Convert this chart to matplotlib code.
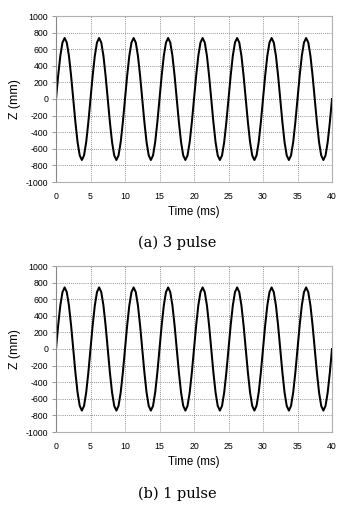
import numpy as np
import matplotlib.pyplot as plt

plt.rcParams['axes.unicode_minus'] = False

# time axis (ms), 16 samples per 5 ms cycle
time_ms = [i * 0.3125 for i in range(129)]

# Z (mm)
z_a = [
    0, 280, 520, 680, 735, 680, 520, 280, 0, -280, -520, -680, -735, -680, -520, -280,
    0, 280, 520, 680, 735, 680, 520, 280, 0, -280, -520, -680, -735, -680, -520, -280,
    0, 280, 520, 680, 735, 680, 520, 280, 0, -280, -520, -680, -735, -680, -520, -280,
    0, 280, 520, 680, 735, 680, 520, 280, 0, -280, -520, -680, -735, -680, -520, -280,
    0, 280, 520, 680, 735, 680, 520, 280, 0, -280, -520, -680, -735, -680, -520, -280,
    0, 280, 520, 680, 735, 680, 520, 280, 0, -280, -520, -680, -735, -680, -520, -280,
    0, 280, 520, 680, 735, 680, 520, 280, 0, -280, -520, -680, -735, -680, -520, -280,
    0, 280, 520, 680, 735, 680, 520, 280, 0, -280, -520, -680, -735, -680, -520, -280,
    0,
]

# Z (mm)
z_b = [
    0, 284, 524, 685, 742, 685, 524, 284, 0, -284, -524, -685, -742, -685, -524, -284,
    0, 284, 524, 685, 742, 685, 524, 284, 0, -284, -524, -685, -742, -685, -524, -284,
    0, 284, 524, 685, 742, 685, 524, 284, 0, -284, -524, -685, -742, -685, -524, -284,
    0, 284, 524, 685, 742, 685, 524, 284, 0, -284, -524, -685, -742, -685, -524, -284,
    0, 284, 524, 685, 742, 685, 524, 284, 0, -284, -524, -685, -742, -685, -524, -284,
    0, 284, 524, 685, 742, 685, 524, 284, 0, -284, -524, -685, -742, -685, -524, -284,
    0, 284, 524, 685, 742, 685, 524, 284, 0, -284, -524, -685, -742, -685, -524, -284,
    0, 284, 524, 685, 742, 685, 524, 284, 0, -284, -524, -685, -742, -685, -524, -284,
    0,
]

x_ticks = [0, 5, 10, 15, 20, 25, 30, 35, 40]
y_ticks = [-1000, -800, -600, -400, -200, 0, 200, 400, 600, 800, 1000]
captions = ["(a) 3 pulse", "(b) 1 pulse"]

W, H = 348, 507
fig = plt.figure(figsize=(W / 100, H / 100), dpi=100)

# pixel boxes (left, top, right, bottom) of the two plots
boxes = [(56, 16, 332, 182), (56, 266, 332, 432)]
caption_y = [243, 494]

for box, z, cap, cy in zip(boxes, [z_a, z_b], captions, caption_y):
    l, t, r, b = box
    ax = fig.add_axes([l / W, 1 - b / H, (r - l) / W, (b - t) / H])
    ax.plot(time_ms, z, color='black', lw=1.45)
    ax.set_xlim(0, 40)
    ax.set_ylim(-1000, 1000)
    ax.set_xticks(x_ticks)
    ax.set_yticks(y_ticks)
    ax.grid(True, color='#707070', linestyle=(0, (1, 1.5)), lw=0.6)
    for s in ax.spines.values():
        s.set_color('#b0b0b0')
        s.set_linewidth(0.8)
    ax.spines['left'].set_color('#888888')
    ax.tick_params(axis='y', length=3, width=0.6, color='#888888', pad=2.5,
                   labelsize=6.3)
    ax.tick_params(axis='x', length=0, pad=7.5, labelsize=6.3)
    for lab in ax.get_xticklabels() + ax.get_yticklabels():
        lab.set_fontfamily('Liberation Sans')
    ax.set_xlabel("Time (ms)", fontsize=8.3, family='Liberation Sans')
    ax.xaxis.set_label_coords(0.5, -0.145)
    ax.set_ylabel("Z (mm)", fontsize=8.8, family='Liberation Sans', va='center')
    ax.yaxis.set_label_coords(-0.147, 0.5)
    fig.text(177 / W, 1 - cy / H, cap, ha='center', va='center',
             fontsize=10.5, family='DejaVu Serif')

fig.savefig("out.png", dpi=100)
